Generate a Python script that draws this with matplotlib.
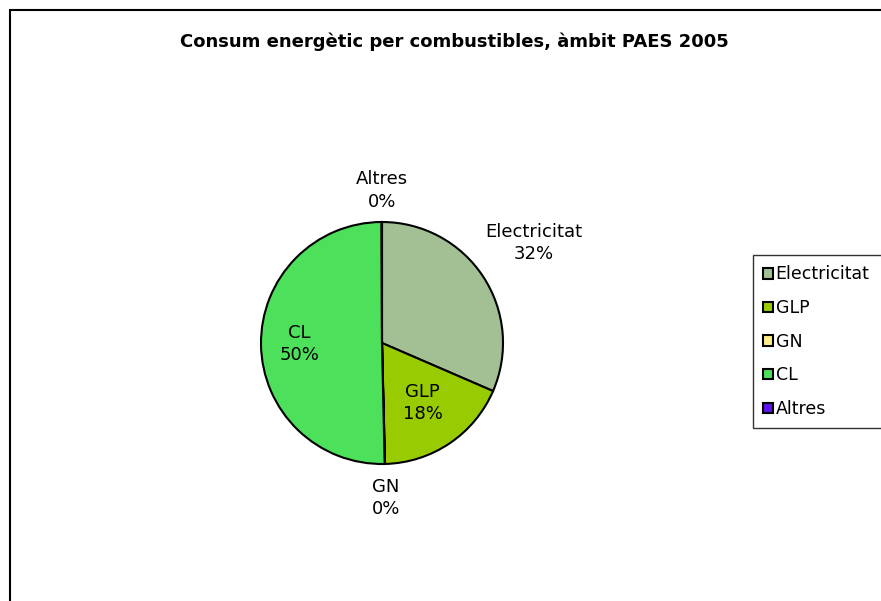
import matplotlib.pyplot as plt
import numpy as np
from matplotlib.patches import Patch, Rectangle

# data
labels = ['Electricitat', 'GLP', 'GN', 'CL', 'Altres']
values = [31.5, 18.1, 0.05, 50.3, 0.05]
pct_text = ['32%', '18%', '0%', '50%', '0%']
colors = ['#a3c094', '#99cc00', '#ffee88', '#4de05a', '#6011f0']
label_dist = [1.5, 0.6, 1.28, 0.68, 1.26]

fig = plt.figure(figsize=(8.81, 6.01), dpi=100)
W, H = 881, 601

# outer frame (only left/top edges visible)
fig.add_artist(Rectangle((10 / W, -0.1), 2, 1.1 - 10 / H, transform=fig.transFigure,
                         fill=False, edgecolor='black', linewidth=1.5))

cx, cy, R = 382, 343, 121
ax = fig.add_axes([(cx - R) / W, (H - cy - R) / H, 2 * R / W, 2 * R / H])
wedges, _ = ax.pie(values, colors=colors, startangle=90, counterclock=False, radius=1,
                   wedgeprops=dict(edgecolor='black', linewidth=1.5))
ax.set_xlim(-1, 1)
ax.set_ylim(-1, 1)
ax.axis('off')

for w, lab, pct, d in zip(wedges, labels, pct_text, label_dist):
    theta = np.deg2rad((w.theta1 + w.theta2) / 2)
    ax.text(d * np.cos(theta), d * np.sin(theta), f'{lab}\n{pct}', ha='center', va='center',
            fontsize=13, linespacing=1.3, clip_on=False)

fig.text(454 / W, 1 - 42 / H, 'Consum energètic per combustibles, àmbit PAES 2005',
         ha='center', va='center', fontsize=13, fontweight='bold')

handles = [Patch(facecolor=c, edgecolor='black', linewidth=1.5) for c in colors]
leg = fig.legend(handles, labels, loc='upper left',
                 bbox_to_anchor=(753 / W, 1 - 423 / H, 140 / W, 168 / H), mode='expand',
                 borderaxespad=0, fontsize=12.5, frameon=True, fancybox=False,
                 handlelength=0.55, handleheight=0.55, handletextpad=0.15,
                 labelspacing=0.9, borderpad=0.6)
leg.get_frame().set_edgecolor('black')
leg.get_frame().set_linewidth(1)

fig.savefig('out.png', dpi=100)
